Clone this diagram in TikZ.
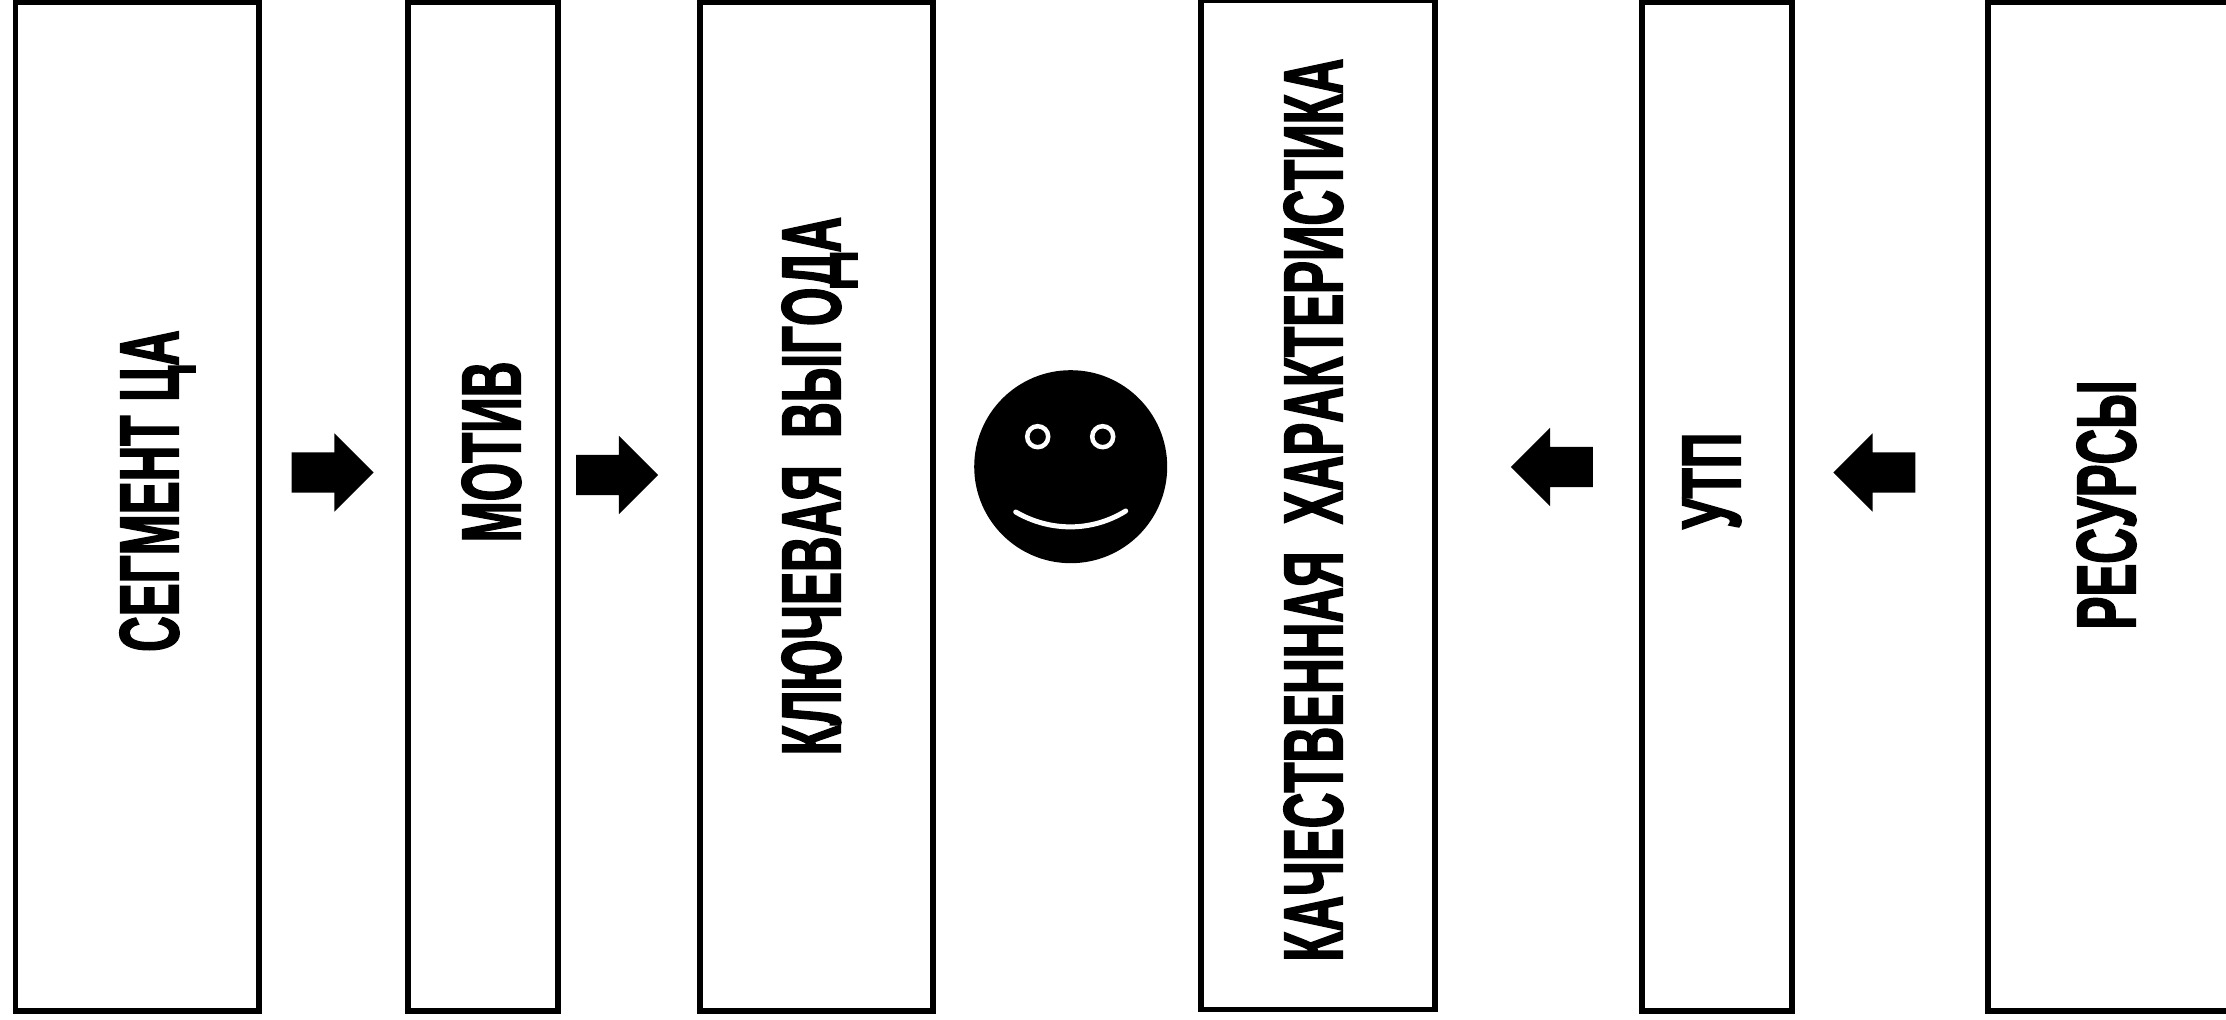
\documentclass[tikz,border=0pt]{standalone}
\usepackage{fontspec}
\newfontfamily\capfont[FakeStretch=0.585,FakeBold=1.6,Kerning=Off]{Liberation Sans Bold}
\usetikzlibrary{shapes.arrows}

\tikzset{
    colbox/.style={draw=black, fill=white, line width=0.058cm, minimum height=10.09cm, inner sep=0, outer sep=0},
    captext/.style={rotate=90, inner sep=0, text height=0.61cm, text depth=0pt, font=\capfont\fontsize{24}{24}\selectfont},
    blockright/.style={single arrow, fill=black, minimum width=0.77cm, minimum height=0.82cm, single arrow head extend=0.19cm, single arrow head indent=0cm, inner xsep=0, inner ysep=0.195cm, outer sep=0},
    blockleft/.style={blockright, shape border rotate=180}
}

\begin{document}
\begin{tikzpicture}
                \useasboundingbox (0,0) rectangle (22.26,10.19);
                
                \node[colbox, minimum width=2.434cm] (segment) at (1.373,5.125) {};
                \node[colbox, minimum width=1.504cm] (motive) at (4.828,5.125) {};
                \node[colbox, minimum width=2.33cm] (benefit) at (8.165,5.125) {};
                \node[colbox, minimum width=2.34cm] (quality) at (13.18,5.14) {};
                \node[colbox, minimum width=1.496cm] (usp) at (17.168,5.125) {};
                \node[colbox, minimum width=2.6cm] (resources) at (21.18,5.125) {};
                
                \node[captext] (segmenttext) at (1.48,5.28) {СЕГМЕНТ ЦА};
                \node[captext] (motivetext) at (4.90,5.67) {МОТИВ};
                \node[captext] (benefittext) at (8.10,5.33) {КЛЮЧЕВАЯ\ \ ВЫГОДА};
                \node[captext] (qualitytext) at (13.12,5.09) {КАЧЕСТВЕННАЯ\ \ ХАРАКТЕРИСТИКА};
                \node[captext] (usptext) at (17.10,5.38) {УТП};
                \node[captext] (resourcestext) at (21.05,5.14) {РЕСУРСЫ};
                
                \node[blockright] (arrowa) at (3.225,5.465) {};
                \node[blockright] (arrowb) at (6.07,5.44) {};
                \node[blockleft] (arrowc) at (15.62,5.52) {};
                \node[blockleft] (arrowd) at (18.845,5.465) {};
                
                \fill[black] (10.707,5.523) circle [radius=0.965];
                \draw[white, line width=0.045cm] (10.377,5.823) circle [radius=0.105];
                \draw[white, line width=0.045cm] (11.027,5.823) circle [radius=0.105];
                \draw[white, line width=0.05cm, line cap=round] (10.157,5.07) .. controls (10.5,4.87) and (10.92,4.87) .. (11.257,5.08);
            \end{tikzpicture}
\end{document}
